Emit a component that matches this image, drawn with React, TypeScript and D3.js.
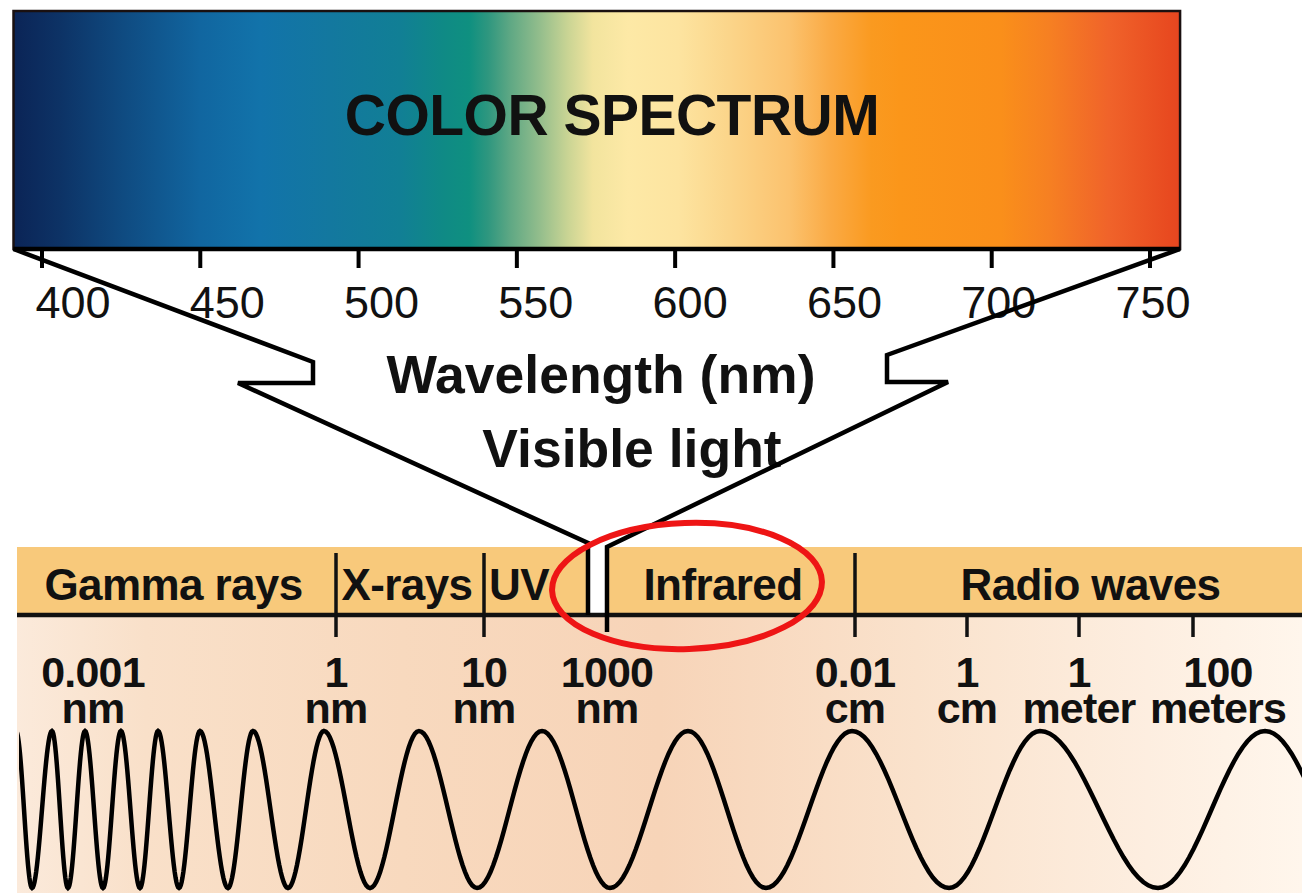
import React from "react";
import * as d3 from "d3";

const W = 1302;
const H = 893;
const FONT = "'Liberation Sans', Arial, Helvetica, sans-serif";

// ---- Visible spectrum (nm) ----
const spectrumTicks = [400, 450, 500, 550, 600, 650, 700, 750];
const spectrumExtent = [391, 759.5];
const spectrumStopNm = [391, 406, 425, 450, 469, 491, 513, 527, 535, 541, 548, 557, 566, 574, 585, 601, 617, 636, 649, 662, 671, 703, 718, 737, 756, 759.5];
const spectrumStopColor = ["#0b2456", "#0d3366", "#0f4a80", "#1166a0", "#1273aa", "#13789f", "#117f95", "#0f8a85", "#0f9080", "#2f977f", "#5fa884", "#92bd8c", "#c9d494", "#f2e49e", "#fde9a6", "#fde4a0", "#fbd58a", "#fbc26e", "#faaa44", "#fa9a20", "#fb961a", "#fa8f1a", "#f68022", "#f0632a", "#e84a20", "#e64620"];

// ---- Electromagnetic spectrum (log10 of wavelength in nm) ----
const bandNames = ["Gamma rays", "X-rays", "UV", "", "Infrared", "Radio waves"];
const bandBoundaries = [0, 1, 2.6, 3, 5];
const emTickValues = [0, 1, 3, 5, 7, 9, 11];
const emLabelValues = [-3, 0, 1, 3, 5, 7, 9, 11];
const emLabelTop = ["0.001", "1", "10", "1000", "0.01", "1", "1", "100"];
const emLabelBottom = ["nm", "nm", "nm", "nm", "cm", "cm", "meter", "meters"];

// wave extrema, in percent of panel width; alternating crest / trough
const waveExtrema = [1.23, 2.46, 3.99, 5.22, 6.53, 7.91, 9.29, 10.75, 12.14, 13.75, 15.36, 17.51, 19.43, 22.12, 24.88, 28.42, 32.18, 36.64, 41.63, 46.85, 52.84, 58.83, 65.44, 72.89, 79.88, 88.94, 97.16, 105.38];

const bottomBgStops = [0, 0.1, 0.3, 0.5, 0.7, 0.88, 1];
const bottomBgColors = ["#fbeadb", "#f9e0c9", "#f8d9be", "#f7d4b8", "#fae2cc", "#fdeee0", "#fff6ec"];

export default function App() {
  // layout
  const barTop = 11, barBottom = 249;
  const bandTop = 547, bandBottom = 615, bandLeft = 17;

  const xs = d3.scaleLinear().domain([400, 750]).range([42, 1150]);
  const xsLabel = d3.scaleLinear().domain([400, 750]).range([73, 1153]);
  const x0 = xs(spectrumExtent[0]);
  const x1 = xs(spectrumExtent[1]);

  const xe = d3.scaleLinear()
    .domain([-3, 0, 1, 2.6, 3, 5, 7, 9, 11])
    .range([93, 336, 484, 588, 607, 855, 967, 1079, 1193]);

  const wx = d3.scaleLinear().domain([0, 100]).range([0, W]);
  const wy = d3.scaleLinear().domain([-1, 1]).range([888, 731]);

  const wavePts: [number, number][] = [];
  for (let i = 0; i < waveExtrema.length - 1; i++) {
    const a = waveExtrema[i], b = waveExtrema[i + 1];
    const sign = i % 2 === 0 ? 1 : -1;
    const n = 24;
    for (let k = 0; k < n; k++) {
      const t = k / n;
      wavePts.push([wx(a + (b - a) * t), wy(sign * Math.cos(Math.PI * t))]);
    }
  }
  wavePts.push([wx(waveExtrema[waveExtrema.length - 1]), wy(waveExtrema.length % 2 === 0 ? -1 : 1)]);
  const wavePath = d3.line()(wavePts) || "";

  // band segments
  const edges = [bandLeft, ...bandBoundaries.map((v) => xe(v)), W];
  const bands = bandNames.map((name, i) => ({ name, x0: edges[i], x1: edges[i + 1] }));

  // funnel geometry (from bar corners to the visible slot)
  const visL = xe(bandBoundaries[2]);
  const visR = xe(bandBoundaries[3]);
  const leftFunnel = d3.line()([
    [x0, barBottom], [313, 362], [313, 383], [238, 383], [visL, 543], [visL, bandBottom],
  ]) || "";
  const rightFunnel = d3.line()([
    [x1, barBottom], [887, 355], [887, 382], [948, 382], [visR, 547], [visR, 632],
  ]) || "";

  const gradStops = spectrumStopNm.map((nm, i) => ({
    off: (xs(nm) - x0) / (x1 - x0),
    color: spectrumStopColor[i],
  }));

  return (
    <div style={{ position: "absolute", left: 0, top: 0, width: W, height: H, background: "#fff" }}>
      <svg width={W} height={H} viewBox={`0 0 ${W} ${H}`} style={{ display: "block", fontFamily: FONT }}>
        <defs>
          <linearGradient id="spec" gradientUnits="userSpaceOnUse" x1={x0} x2={x1} y1={0} y2={0}>
            {gradStops.map((s, i) => (
              <stop key={i} offset={s.off} stopColor={s.color} />
            ))}
          </linearGradient>
          <linearGradient id="bottomBg" x1="0" x2="1" y1="0" y2="0">
            {bottomBgStops.map((o, i) => (
              <stop key={i} offset={o} stopColor={bottomBgColors[i]} />
            ))}
          </linearGradient>
          <clipPath id="waveClip">
            <rect x={bandLeft + 2} y={bandBottom} width={W} height={H - bandBottom} />
          </clipPath>
        </defs>

        {/* ===== Color spectrum bar ===== */}
        <rect x={x0} y={barTop} width={x1 - x0} height={barBottom - barTop} fill="url(#spec)" stroke="#1a1010" strokeWidth={2.5} />
        <line x1={x0} x2={x1} y1={barBottom} y2={barBottom} stroke="#000" strokeWidth={4.5} />
        <text x={612} y={135} textAnchor="middle" fontSize={57} fontWeight="bold" fill="#111" letterSpacing={-0.5}>
          COLOR SPECTRUM
        </text>

        {spectrumTicks.map((t) => (
          <g key={t}>
            <line x1={xs(t)} x2={xs(t)} y1={barBottom} y2={268} stroke="#000" strokeWidth={4} />
            <text x={xsLabel(t)} y={318} textAnchor="middle" fontSize={45} fill="#111">
              {t}
            </text>
          </g>
        ))}

        <text x={601} y={393} textAnchor="middle" fontSize={53.5} fontWeight="bold" fill="#111">
          Wavelength (nm)
        </text>
        <text x={632} y={467} textAnchor="middle" fontSize={53.5} fontWeight="bold" fill="#111">
          Visible light
        </text>

        {/* ===== EM spectrum panel ===== */}
        <rect x={bandLeft} y={bandBottom} width={W - bandLeft} height={H - bandBottom} fill="url(#bottomBg)" />
        <rect x={bandLeft} y={bandTop} width={W - bandLeft} height={bandBottom - bandTop} fill="#f8c97b" />
        <rect x={visL} y={543} width={visR - visL} height={bandBottom - 543} fill="#fff" />
        <line x1={bandLeft} x2={W} y1={bandBottom} y2={bandBottom} stroke="#111" strokeWidth={4.5} />

        {bands.map((b) =>
          b.name ? (
            <text
              key={b.name}
              x={b.name === "UV" ? b.x0 + 5 : (b.x0 + b.x1) / 2 + (b.name === "Radio waves" ? 12 : b.name === "Infrared" ? -8 : -3)}
              y={600}
              textAnchor={b.name === "UV" ? "start" : "middle"}
              fontSize={44}
              fontWeight="bold"
              fill="#111"
              letterSpacing={-0.6}
            >
              {b.name}
            </text>
          ) : null
        )}

        {[bandBoundaries[0], bandBoundaries[1], bandBoundaries[4]].map((v) => (
          <line key={"d" + v} x1={xe(v)} x2={xe(v)} y1={553} y2={637} stroke="#111" strokeWidth={3.5} />
        ))}
        {emTickValues.filter((v) => v > 5).map((v) => (
          <line key={"t" + v} x1={xe(v)} x2={xe(v)} y1={bandBottom} y2={637} stroke="#111" strokeWidth={3.5} />
        ))}

        {emLabelValues.map((v, i) => {
          const x = xe(v) + (i === emLabelValues.length - 1 ? 25 : 0);
          return (
            <g key={"l" + i} fontSize={43} fontWeight="bold" fill="#111" textAnchor="middle" letterSpacing={-0.8}>
              <text x={x} y={687}>{emLabelTop[i]}</text>
              <text x={x} y={723}>{emLabelBottom[i]}</text>
            </g>
          );
        })}

        <path d={wavePath} fill="none" stroke="#000" strokeWidth={4.5} clipPath="url(#waveClip)" />

        {/* funnel */}
        <path d={leftFunnel} fill="none" stroke="#000" strokeWidth={4.5} strokeLinejoin="miter" />
        <path d={rightFunnel} fill="none" stroke="#000" strokeWidth={4.5} strokeLinejoin="miter" />

        {/* highlight */}
        <ellipse cx={687} cy={586} rx={135} ry={63} fill="none" stroke="#ee1515" strokeWidth={6} transform="rotate(-2 687 586)" />
      </svg>
    </div>
  );
}
